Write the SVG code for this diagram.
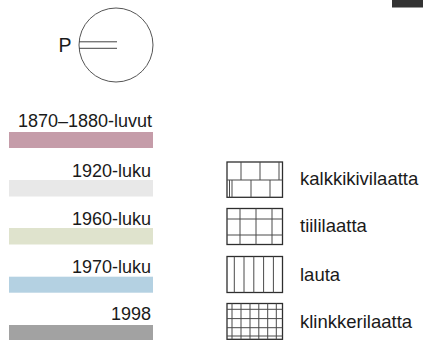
<svg xmlns="http://www.w3.org/2000/svg" width="423" height="340" viewBox="0 0 423 340">
<style>
text{font-family:"Liberation Sans","Noto Sans",sans-serif;fill:#1a1a1a;}
.lbl{font-size:18px;text-anchor:end;}
.pl{font-size:18.5px;}
.box{fill:#fff;stroke:#2e2e2e;stroke-width:1.3;}
.in{stroke:#4a4a4a;stroke-width:1;fill:none;}
</style>
<rect x="0" y="0" width="423" height="340" fill="#fff"/>
<g id="topbar"><rect x="392" y="0" width="31" height="7.5" fill="#333"/></g>
<g id="compass">
<circle cx="116" cy="45" r="37" fill="none" stroke="#555" stroke-width="1"/>
<line x1="79" y1="41.8" x2="117" y2="41.8" stroke="#444" stroke-width="1"/>
<line x1="79" y1="48.3" x2="117" y2="48.3" stroke="#444" stroke-width="1"/>
<text x="58.5" y="51.7" style="font-size:19.5px">P</text>
</g>
<g id="era1"><text class="lbl" x="152" y="126.7">1870–1880-luvut</text><rect x="9" y="132" width="144" height="16" fill="#c59ca9"/></g>
<g id="era2"><text class="lbl" x="151" y="177">1920-luku</text><rect x="9" y="180" width="144" height="16.5" fill="#e8e8e8"/></g>
<g id="era3"><text class="lbl" x="151" y="225">1960-luku</text><rect x="9" y="228" width="144" height="16.5" fill="#dfe3cd"/></g>
<g id="era4"><text class="lbl" x="151" y="273.3">1970-luku</text><rect x="9" y="276.7" width="144" height="16" fill="#b4d1e2"/></g>
<g id="era5"><text class="lbl" x="151" y="320">1998</text><rect x="9" y="325" width="144" height="15" fill="#a2a2a2"/></g>
<g id="kalkkikivilaatta">
<rect class="box" x="227" y="162" width="55.5" height="35.3"/>
<path class="in" d="M227 180H282.5M241 162V180M260 162V180M279 162V180M229.5 180V197.3M232 180V197.3M251 180V197.3M270 180V197.3"/>
<text class="pl" x="300" y="185">kalkkikivilaatta</text>
</g>
<g id="tiililaatta">
<rect class="box" x="227" y="208.5" width="55.5" height="36"/>
<path class="in" d="M227 219H282.5M227 235H282.5M240 208.5V244.5M256 208.5V244.5M272 208.5V244.5"/>
<text class="pl" x="300" y="231.7">tiililaatta</text>
</g>
<g id="lauta">
<rect class="box" x="227" y="256.5" width="55.5" height="36"/>
<path class="in" d="M234.3 256.5V292.5M244 256.5V292.5M253.8 256.5V292.5M263.6 256.5V292.5M273.4 256.5V292.5"/>
<text class="pl" x="300" y="280.7">lauta</text>
</g>
<g id="klinkkerilaatta">
<rect class="box" x="227" y="303.5" width="55.5" height="35.8"/>
<path class="in" d="M227 309.3H282.5M227 318.6H282.5M227 327.7H282.5M227 336H282.5M232 303.5V339.3M241 303.5V339.3M250 303.5V339.3M258.8 303.5V339.3M267.7 303.5V339.3M276.3 303.5V339.3"/>
<text class="pl" x="300" y="328">klinkkerilaatta</text>
</g>
</svg>
